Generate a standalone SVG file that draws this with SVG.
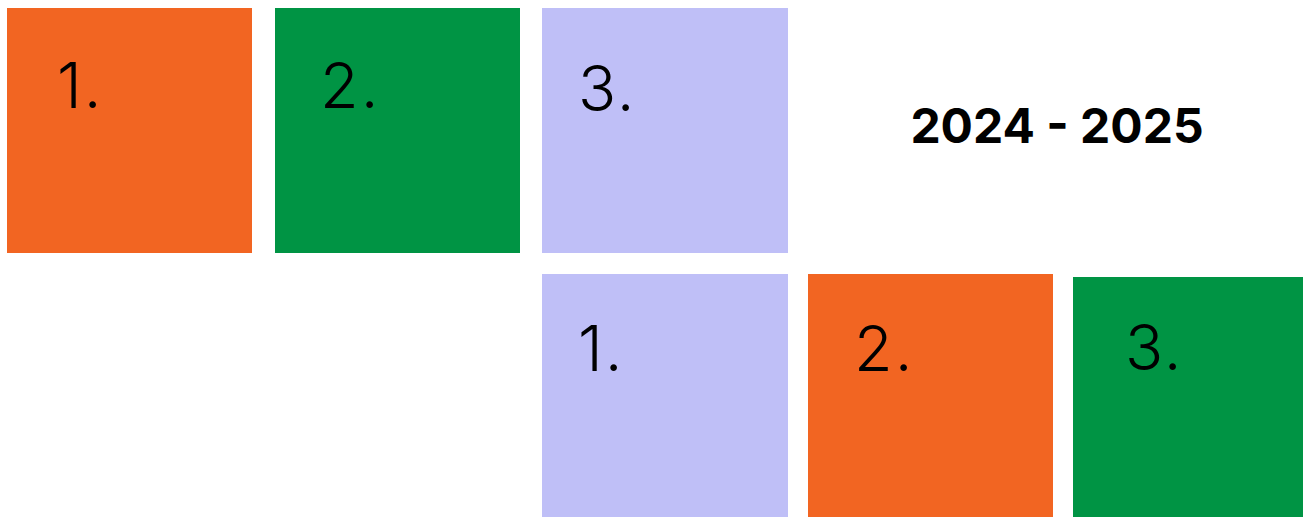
<svg xmlns="http://www.w3.org/2000/svg" width="1303" height="517" viewBox="0 0 1303 517">
<style>
.o{fill:#F26522}.g{fill:#009444}.l{fill:#BFBFF7}
.n{font-family:Inter,"Liberation Sans",sans-serif;font-size:63px;font-weight:300;fill:#000;letter-spacing:2px}
.t{font-family:Inter,"Liberation Sans",sans-serif;font-size:48px;font-weight:700;fill:#000}
</style>
<rect width="1303" height="517" fill="#fff"/>
<g id="a1"><rect class="o" x="7" y="8" width="245" height="245"/><text class="n" x="57" y="108">1.</text></g>
<g id="a2"><rect class="g" x="275" y="8" width="245" height="245"/><text class="n" x="320" y="108">2.</text></g>
<g id="a3"><rect class="l" x="542" y="8" width="246" height="245"/><text class="n" x="578" y="111">3.</text></g>
<g id="title"><text class="t" x="1057" y="143" text-anchor="middle">2024 - 2025</text></g>
<g id="b1"><rect class="l" x="542" y="274" width="246" height="243"/><text class="n" x="578" y="371">1.</text></g>
<g id="b2"><rect class="o" x="808" y="274" width="245" height="243"/><text class="n" x="854" y="371">2.</text></g>
<g id="b3"><rect class="g" x="1073" y="277" width="230" height="240"/><text class="n" x="1125" y="370">3.</text></g>
</svg>
